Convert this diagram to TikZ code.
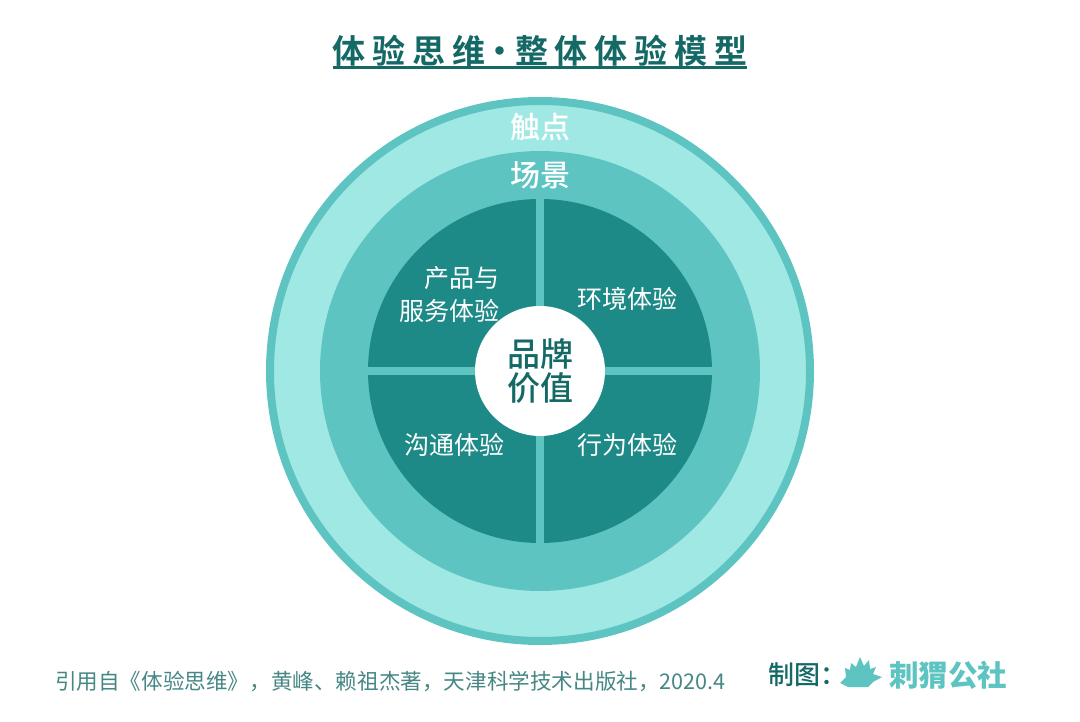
\documentclass[tikz,border=0pt]{standalone}
\usepackage{fontspec}
\usepackage{tikz}
\newfontfamily\cjk{Noto Sans CJK SC}
\newfontfamily\cjkmid{Noto Sans CJK SC Medium}
\newfontfamily\cjkbold[LetterSpace=20.5]{Noto Sans CJK SC Bold}
\newfontfamily\cjklogo{Noto Sans CJK SC Black}
\definecolor{title}{RGB}{20,105,103}
\definecolor{ringedge}{RGB}{93,196,194}
\definecolor{ringlight}{RGB}{160,232,228}
\definecolor{ringmid}{RGB}{93,196,194}
\definecolor{core}{RGB}{30,138,135}
\definecolor{note}{RGB}{70,135,133}
\tikzset{
  jring/.style={circle,inner sep=0pt,outer sep=0pt,minimum size=#1},
  jbar/.style={ringmid,line width=8pt},
  jhead/.style={white,font=\cjkmid\fontsize{30}{32}\selectfont},
  jcell/.style={white,align=right,font=\cjk\fontsize{25}{33}\selectfont},
}
\begin{document}
\begin{tikzpicture}[x=1pt,y=-1pt]
  \useasboundingbox[fill=white] (0,0) rectangle (1080,722);
  \coordinate (c) at (540,371);
  \node[jring=540pt,fill=ringlight,draw=ringedge,line width=8pt] (touch) at (c) {};
  \node[jring=440pt,fill=ringmid] (scene) at (c) {};
  \node[jring=344pt,fill=core] (inner) at (c) {};
  % cross between the four cells
  \draw[jbar] (inner.north) -- (inner.south);
  \draw[jbar] (inner.west) -- (inner.east);
  \node[jring=130pt,fill=white,text=title,align=center,font=\cjkmid\fontsize{33}{34}\selectfont] (brand) at (c) {品牌\\价值};
  \node[title,font=\cjkbold\fontsize{33}{36}\selectfont,inner sep=0pt] (head) at (540,51) {体验思维\hspace{-1.5pt}·\hspace{-1.5pt}整体体验模型};
  \coordinate (ua) at (333,67.5);
  \coordinate (ub) at (747,67.5);
  \draw[title,line width=2.6pt] (ua) -- (ub);
  \node[jhead] (tp) at (540,127) {触点};
  \node[jhead] (sc) at (540,175) {场景};
  \foreach \n/\x/\y/\lab in {prod/449/295/{产品与\\服务体验},env/627/299/{环境体验},
                             comm/454/445/{沟通体验},act/627/445/{行为体验}}
    {\node[jcell] (\n) at (\x,\y) {\lab};}
  \node[note,font=\cjk\fontsize{21.6}{24}\selectfont,anchor=west,inner sep=0pt] (src) at (55,681) {引用自《体验思维》，黄峰、赖祖杰著，天津科学技术出版社，2020.4};
  \node[title,font=\cjkmid\fontsize{26}{28}\selectfont,anchor=west,inner sep=0pt] (made) at (768,675) {制图：};
  % hedgehog mark
  \fill[ringedge] (840,683) -- (846,677) -- (845,668) -- (850,670) -- (851,663) -- (856,667) -- (860,657)
    -- (864,666) -- (869,660) -- (870,669) -- (876,667) -- (873,674) -- (882,677) -- (873,682)
    -- (868,687) -- (848,687) -- cycle;
  \node[ringedge,font=\cjklogo\fontsize{29.5}{30}\selectfont,anchor=west,inner sep=0pt] (logo) at (889,675) {刺猬公社};
\end{tikzpicture}
\end{document}
